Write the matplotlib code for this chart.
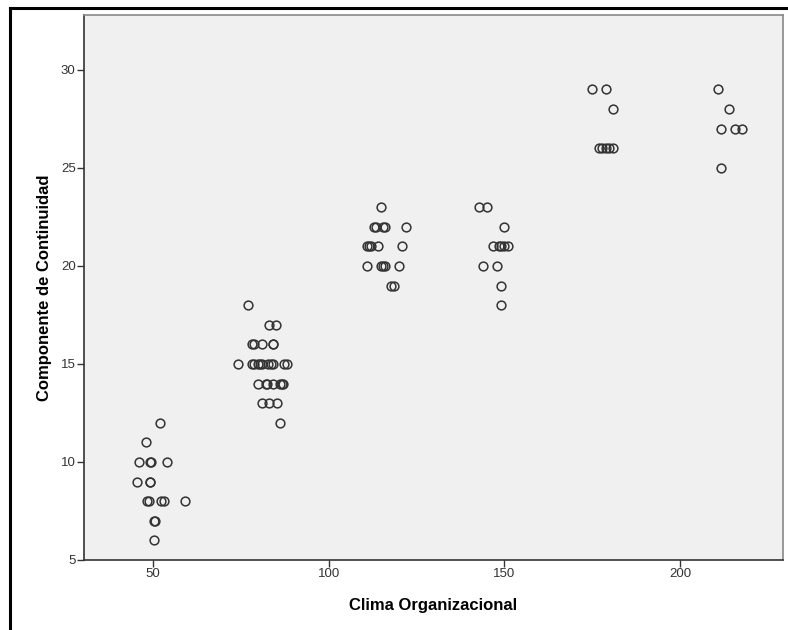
import numpy as np
import matplotlib.pyplot as plt
from matplotlib.lines import Line2D

plt.rcParams['font.family'] = ['Liberation Sans', 'DejaVu Sans']

# Clima Organizacional (x) vs Componente de Continuidad (y)
clima = [52, 48, 46, 49.1, 49.3, 54, 45.3, 49, 49.2, 48.1, 48.8, 52.2, 53.1, 59.1, 50.2, 50.4, 50.2,
         77, 83, 85, 78, 78.7, 81.1, 84, 84.2,
         74.2, 78, 78.7, 79.7, 80.4, 81.1, 82.7, 83.4, 84.1, 87.3, 88.2,
         79.9, 82, 82.3, 84.1, 86.1, 86.6, 87, 81, 83, 85.2, 86.1,
         114.9, 112.9, 113.4, 115.5, 116.1, 121.9, 110.9, 111.5, 112, 114.1, 120.9,
         111, 114.8, 115.5, 116, 119.9, 117.8, 118.6,
         142.8, 145.1, 150, 146.8, 148.4, 149.1, 150, 150.9, 143.9, 147.9, 148.9, 148.9,
         174.8, 178.8, 180.8, 176.8, 177.9, 178.8, 179.8, 180.9,
         210.8, 213.8, 211.7, 215.7, 217.7, 211.7]
continuidad = [12, 11, 10, 10, 10, 10, 9, 9, 9, 8, 8, 8, 8, 8, 7, 7, 6,
               18, 17, 17, 16, 16, 16, 16, 16,
               15, 15, 15, 15, 15, 15, 15, 15, 15, 15, 15,
               14, 14, 14, 14, 14, 14, 14, 13, 13, 13, 12,
               23, 22, 22, 22, 22, 22, 21, 21, 21, 21, 21,
               20, 20, 20, 20, 20, 19, 19,
               23, 23, 22, 21, 21, 21, 21, 21, 20, 20, 19, 18,
               29, 29, 28, 26, 26, 26, 26, 26,
               29, 28, 27, 27, 27, 25]

xticks = [50, 100, 150, 200]
yticks = [5, 10, 15, 20, 25, 30]

fig = plt.figure(figsize=(7.88, 6.3), dpi=100)
ax = fig.add_axes([84 / 788, 70 / 630, 699 / 788, 545 / 630])
ax.set_facecolor('#f0f0f0')

ax.plot(clima, continuidad, 'o', ms=6.3, mfc='none', mec='#333333', mew=1.1)

ax.set_xlim(30.3, 229.3)
ax.set_ylim(5, 32.8)
ax.set_xticks(xticks)
ax.set_yticks(yticks)
ax.tick_params(length=5, width=1, color='#333333', labelsize=9.5, labelcolor='#333333', pad=1)
for s in ['left', 'bottom']:
    ax.spines[s].set_color('#333333')
    ax.spines[s].set_linewidth(1.2)
for s in ['top', 'right']:
    ax.spines[s].set_color('#888888')
    ax.spines[s].set_linewidth(1.2)

ax.set_xlabel('Clima Organizacional', fontsize=12, fontweight='bold', labelpad=13)
ax.set_ylabel('Componente de Continuidad', fontsize=12, fontweight='bold', labelpad=6)

# outer frame lines along the top and left edges
fig.add_artist(Line2D([10 / 788, 1], [1 - 8 / 630, 1 - 8 / 630], color='black', lw=2.2,
                      transform=fig.transFigure))
fig.add_artist(Line2D([10 / 788, 10 / 788], [0, 1 - 8 / 630], color='black', lw=2.2,
                      transform=fig.transFigure))

fig.savefig('out.png', dpi=100)
